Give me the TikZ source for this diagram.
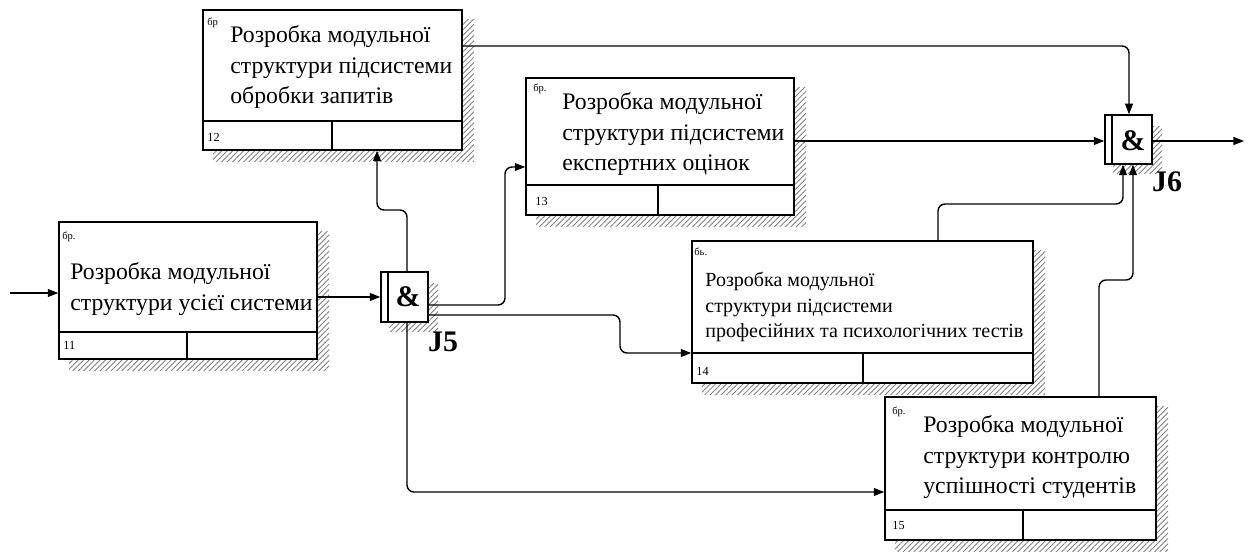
\documentclass[tikz,border=0pt]{standalone}
\usepackage{fontspec}
\setmainfont{Liberation Serif}
\usetikzlibrary{arrows.meta,patterns.meta,fit}

% unit of behaviour box: name, x1, y1, x2, y2, divider y, divider x
\newcommand\uobbox[7]{%
  \fill[hatch] (#2+10,#3+10) rectangle (#4+12,#5+12);
  \node[uob,fit={(#2,#3)(#4,#5)}] (#1) {};
  \draw[boxline] (#2,#6) -- (#4,#6) (#7,#6) -- (#7,#5);
}
% junction box: name, x1, y1, x2, y2
\newcommand\junctionbox[5]{%
  \fill[hatch] (#2+8,#3+12) rectangle (#4+10,#5+10);
  \node[uob,fit={(#2,#3)(#4,#5)}] (#1) {};
  \draw[boxline] (#2+7,#3) -- (#2+7,#5);
}

\begin{document}
\begin{tikzpicture}[x=0.02cm,y=-0.02cm,
  boxline/.style={draw=black,line width=0.8pt},
  uob/.style={boxline,fill=white,inner sep=0pt},
  hatch/.style={pattern={Lines[angle=45,distance=2.2pt,line width=0.5pt]},pattern color=black!50},
  uobtext/.style={anchor=north west,inner sep=0pt,align=left,font=\fontsize{13.5}{17.5}\selectfont},
  smalltext/.style={uobtext,font=\fontsize{11.4}{14.6}\selectfont},
  reftag/.style={anchor=north west,inner sep=0pt,font=\fontsize{6}{7}\selectfont},
  idtag/.style={anchor=west,inner sep=0pt,font=\fontsize{7}{8}\selectfont},
  amp/.style={inner sep=0pt,font=\fontsize{17}{19}\selectfont\bfseries},
  jlabel/.style={inner sep=0pt,font=\fontsize{17}{19}\selectfont\bfseries},
  flow/.style={line width=0.8pt,rounded corners=4pt,-{Triangle[length=6pt,width=4.5pt]}},
]
\useasboundingbox (0,0) rectangle (1251,553);

% boxes
\uobbox{b12}{203}{10}{462}{150}{121}{332}
\uobbox{b11}{59}{222}{317}{359}{332}{187}
\uobbox{b13}{526}{78}{794}{215}{185}{658}
\uobbox{b14}{692}{241}{1033}{383}{353}{863}
\uobbox{b15}{885}{397}{1156}{540}{510}{1023}

\node[uobtext] (t12) at (230,25) {Розробка модульної\\структури підсистеми\\обробки запитів};
\node[uobtext] (t11) at (70,262) {Розробка модульної\\структури усієї системи};
\node[uobtext] (t13) at (562,92) {Розробка модульної\\структури підсистеми\\експертних оцінок};
\node[smalltext] (t14) at (705,272) {Розробка модульної\\структури підсистеми\\професійних та психологічних тестів};
\node[uobtext] (t15) at (923,415) {Розробка модульної\\структури контролю\\успішності студентів};

\node[reftag] (r12) at (207,18) {бр};
\node[reftag] (r11) at (62,232) {бр.};
\node[reftag] (r13) at (533,84) {бр.};
\node[reftag] (r14) at (694,248) {бь.};
\node[reftag] (r15) at (892,407) {бр.};

\node[idtag] (n12) at (207,137) {12};
\node[idtag] (n11) at (63,345) {11};
\node[idtag] (n13) at (535,201) {13};
\node[idtag] (n14) at (696,371) {14};
\node[idtag] (n15) at (892,526) {15};

% junctions
\junctionbox{j5}{381}{272}{428}{322}
\junctionbox{j6}{1105}{115}{1152}{164}
\node[amp] (a5) at (408,297) {\&};
\node[amp] (a6) at (1133,141) {\&};
\node[jlabel] (l5) at (443,342) {J5};
\node[jlabel] (l6) at (1167,182) {J6};

% connectors
\coordinate (src) at (10,293);
\coordinate (sink) at (1244,141);
\draw[flow] (src) -- (b11.west |- src);
\draw[flow] (b11.east |- 0,297) -- (j5.west |- 0,297);
\draw[flow] (j5.north -| 407,0) -- (407,210) -- (377,210) -- (b12.south -| 377,0);
\draw[flow] (j5.east |- 0,305) -- (505,305) -- (505,167) -- (b13.west |- 0,167);
\draw[flow] (j5.east |- 0,315) -- (620,315) -- (620,353) -- (b14.west |- 0,353);
\draw[flow] (j5.south -| 407,0) -- (407,492) -- (b15.west |- 0,492);
\draw[flow] (b12.east |- 0,46) -- (1129,46) -- (j6.north -| 1129,0);
\draw[flow] (b13.east |- 0,141) -- (j6.west |- 0,141);
\draw[flow] (b14.north -| 938,0) -- (938,204) -- (1123,204) -- (j6.south -| 1123,0);
\draw[flow] (b15.north -| 1099,0) -- (1099,280) -- (1133,280) -- (j6.south -| 1133,0);
\draw[flow] (j6.east |- 0,141) -- (sink);
\end{tikzpicture}
\end{document}
